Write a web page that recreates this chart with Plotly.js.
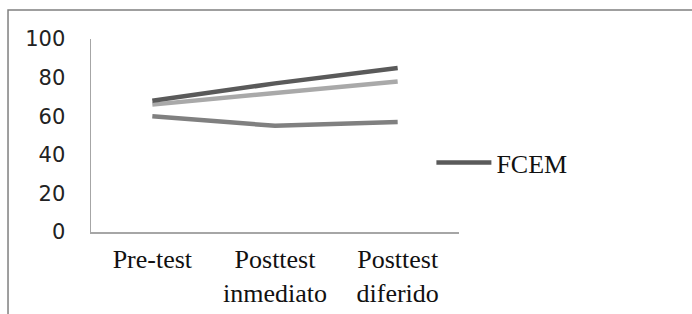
<!DOCTYPE html>
<html>
<head>
<meta charset="utf-8">
<script src="https://cdn.plot.ly/plotly-3.0.1.min.js"></script>
<style>html,body{margin:0;padding:0;background:#fff;}#chart{width:692px;height:314px;}</style>
</head>
<body>
<div id="chart"></div>
<script>
const categories = ["Pre-test", "Posttest<br>inmediato", "Posttest<br>diferido"];
const seriesNames = ["FCEM", "Serie 2", "Serie 3"];
const fcem = [68, 77, 85];
const serie2 = [66, 72, 78];
const serie3 = [60, 55, 57];
const yTicks = [0, 20, 40, 60, 80, 100];

const traces = [
  {x: categories, y: serie2, name: seriesNames[1], type: "scatter", mode: "lines",
   line: {color: "#a9a9a9", width: 4.5}, showlegend: false},
  {x: categories, y: serie3, name: seriesNames[2], type: "scatter", mode: "lines",
   line: {color: "#808080", width: 4.5}, showlegend: false},
  {x: categories, y: fcem, name: seriesNames[0], type: "scatter", mode: "lines",
   line: {color: "#5a5a5a", width: 4.5}, showlegend: true}
];

const serif = "Liberation Serif";

const layout = {
  width: 692, height: 314,
  font: {family: serif, color: "#111"},
  margin: {l: 91, r: 233, t: 39, b: 82, pad: 0},
  paper_bgcolor: "#ffffff", plot_bgcolor: "#ffffff",
  showlegend: true,
  legend: {x: 0.925, y: 0.36, xanchor: "left", yanchor: "middle",
           font: {family: serif, size: 26, color: "#111"},
           bgcolor: "rgba(0,0,0,0)", itemwidth: 55, tracegroupgap: 0},
  xaxis: {type: "category", range: [-0.5, 2.5], showline: true, linecolor: "#a6a6a6", linewidth: 1.5,
          showgrid: false, zeroline: false, ticks: "",
          tickfont: {family: serif, size: 26, color: "#111"},
          ticklabelstandoff: 3},
  yaxis: {range: [0, 100], tickvals: yTicks, showline: true, linecolor: "#a6a6a6", linewidth: 1.5,
          showgrid: false, zeroline: false, ticks: "",
          tickfont: {family: "DejaVu Sans", size: 21, color: "#222"},
          ticklabelstandoff: 20},
  shapes: [{type: "rect", xref: "paper", yref: "paper",
            x0: -0.2255, x1: 1.7, y0: -0.5, y1: 1.15,
            line: {color: "#808080", width: 1.5}, fillcolor: "rgba(0,0,0,0)", layer: "below"}]
};

Plotly.newPlot("chart", traces, layout, {displayModeBar: false, staticPlot: true});
</script>
</body>
</html>
